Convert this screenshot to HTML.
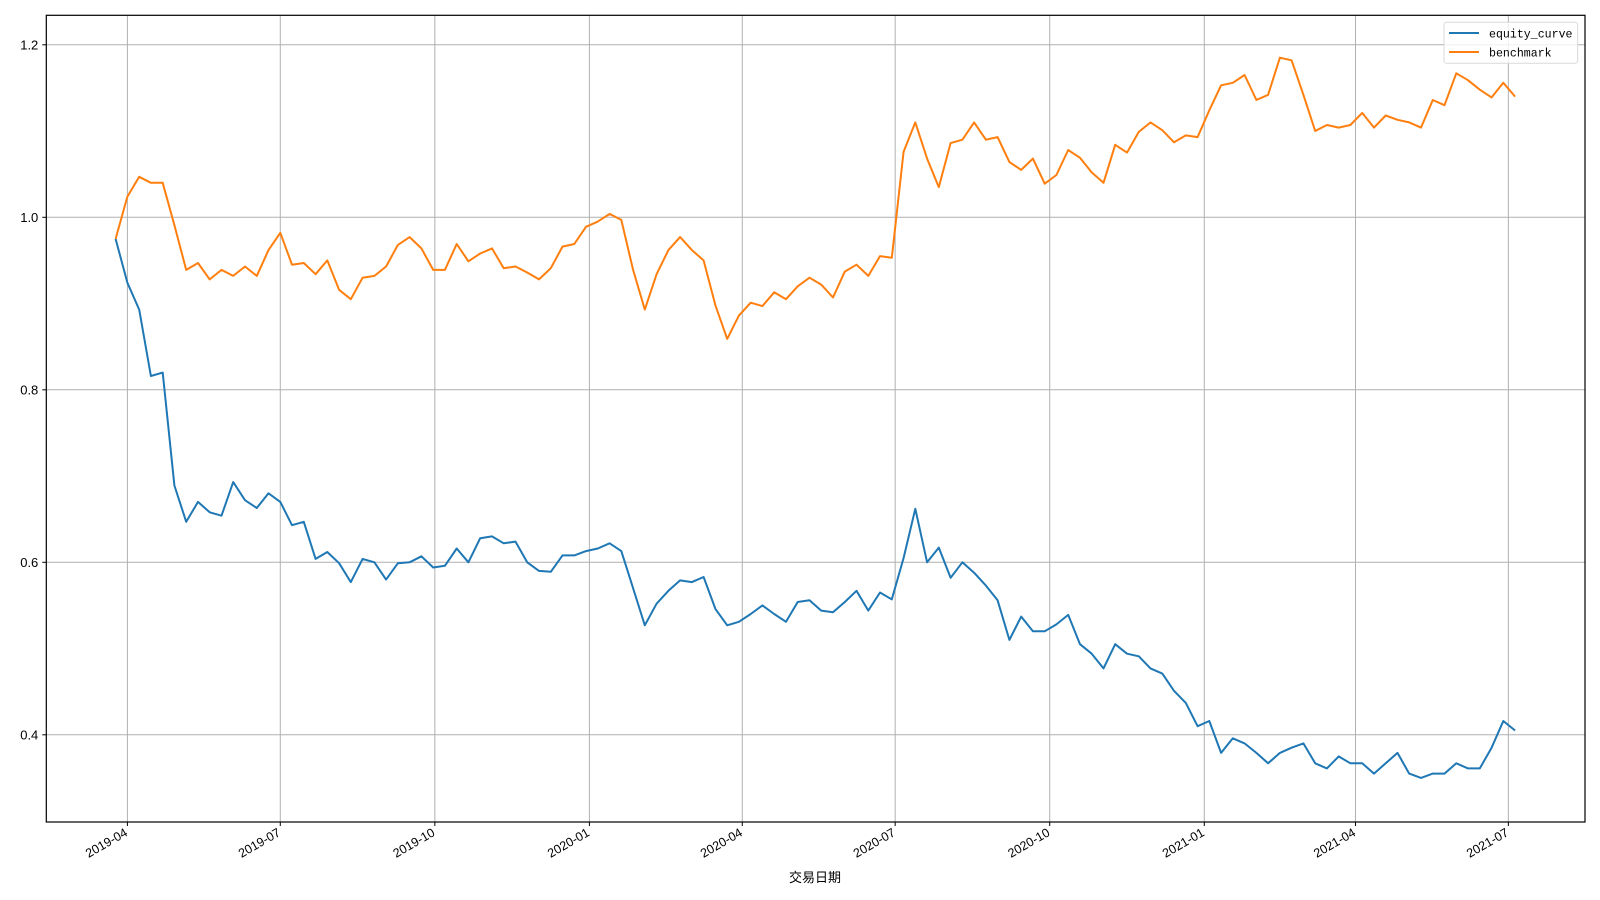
<!DOCTYPE html>
<html><head><meta charset="utf-8">
<style>
html,body{margin:0;padding:0;background:#fff;}
svg{display:block;}
text{font-family:"Liberation Sans","Noto Sans CJK SC",sans-serif;fill:#000;}
.mono{font-family:"Liberation Mono","Noto Sans CJK SC",monospace;}
</style></head>
<body>
<svg id="chart" width="1600" height="900" viewBox="0 0 1600 900">
  <rect x="0" y="0" width="1600" height="900" fill="#fff"/>
  <g id="grid"></g>
  <g id="series"></g>
  <rect x="46.3" y="15.3" width="1538.7" height="806.7" fill="none" stroke="#000" stroke-width="1.2"/>
  <g id="xaxis"></g>
  <g id="yaxis"></g>
  <text x="815" y="882" font-size="13" text-anchor="middle">交易日期</text>
  <g>
    <rect x="1444" y="22.3" width="133.7" height="41" rx="2.5" fill="#fff" fill-opacity="0.8" stroke="#d9d9d9"/>
    <line x1="1449" y1="33" x2="1479" y2="33" stroke="#1f77b4" stroke-width="2"/>
    <text class="mono" x="1489" y="37.5" font-size="11.6">equity_curve</text>
    <line x1="1449" y1="52" x2="1479" y2="52" stroke="#ff7f0e" stroke-width="2"/>
    <text class="mono" x="1489" y="56.5" font-size="11.6">benchmark</text>
  </g>
</svg>
<script>
const startDate = "2019-03-25";
const stepDays = 7;
const equityCurve = [0.975,0.924,0.893,0.816,0.82,0.689,0.647,0.67,0.658,0.654,
0.693,0.672,0.663,0.68,0.67,0.643,0.647,0.604,0.612,0.599,
0.577,0.604,0.6,0.58,0.599,0.6,0.607,0.594,0.596,0.616,
0.6,0.628,0.63,0.622,0.624,0.6,0.59,0.589,0.608,0.608,
0.613,0.616,0.622,0.613,0.57,0.527,0.552,0.567,0.579,0.577,
0.583,0.546,0.527,0.531,0.54,0.55,0.54,0.531,0.554,0.556,
0.544,0.542,0.554,0.567,0.544,0.565,0.557,0.605,0.662,0.6,
0.617,0.582,0.6,0.588,0.573,0.556,0.51,0.537,0.52,0.52,
0.528,0.539,0.505,0.494,0.477,0.505,0.494,0.491,0.477,0.471,
0.451,0.437,0.41,0.416,0.379,0.396,0.39,0.379,0.367,0.379,
0.385,0.39,0.367,0.361,0.375,0.367,0.367,0.355,0.367,0.379,
0.355,0.35,0.355,0.355,0.367,0.361,0.361,0.385,0.416,0.405];
const benchmark = [0.975,1.024,1.047,1.04,1.04,0.991,0.939,0.947,0.928,0.939,
0.932,0.943,0.932,0.962,0.982,0.945,0.947,0.934,0.95,0.916,
0.905,0.93,0.932,0.943,0.968,0.977,0.964,0.939,0.939,0.969,
0.949,0.958,0.964,0.941,0.943,0.936,0.928,0.941,0.966,0.969,
0.989,0.995,1.004,0.997,0.939,0.893,0.934,0.962,0.977,0.962,
0.95,0.898,0.859,0.886,0.901,0.897,0.913,0.905,0.92,0.93,
0.922,0.907,0.937,0.945,0.932,0.955,0.953,1.076,1.11,1.068,
1.035,1.086,1.09,1.11,1.09,1.093,1.064,1.055,1.068,1.039,
1.049,1.078,1.069,1.052,1.04,1.084,1.075,1.099,1.11,1.101,
1.087,1.095,1.093,1.124,1.153,1.156,1.165,1.136,1.142,1.185,
1.182,1.142,1.1,1.107,1.104,1.107,1.121,1.104,1.118,1.113,
1.11,1.104,1.136,1.13,1.167,1.159,1.148,1.139,1.156,1.14];
const xTickLabels = ["2019-04","2019-07","2019-10","2020-01","2020-04","2020-07","2020-10","2021-01","2021-04","2021-07"];
const yTickValues = [0.4,0.6,0.8,1.0,1.2];
const yTickLabels = ["0.4","0.6","0.8","1.0","1.2"];

const NS = "http://www.w3.org/2000/svg";
const L = 46.3, R = 1585, T = 15.3, B = 822;
const ref0 = Date.UTC(2019,3,1);
const DAY = 86400000;
function dayOf(s){const p=s.split("-").map(Number);return (Date.UTC(p[0],p[1]-1,p[2]||1)-ref0)/DAY;}
function xScale(d){return 127.4 + d*1.68;}
function yScale(v){return 217.3 - (v-1.0)*862.5;}
function mk(tag, attrs, parent){const e=document.createElementNS(NS,tag);for(const k in attrs)e.setAttribute(k,attrs[k]);parent.appendChild(e);return e;}

const grid = document.getElementById("grid");
const xa = document.getElementById("xaxis");
const ya = document.getElementById("yaxis");
const ser = document.getElementById("series");

xTickLabels.forEach(function(lbl){
  const x = xScale(dayOf(lbl));
  const g = mk("line",{x1:x,y1:T,x2:x,y2:B,stroke:"#b0b0b0","stroke-width":1},grid);
  
  
  const t = mk("line",{x1:x,y1:B,x2:x,y2:B+4,stroke:"#000","stroke-width":1},xa);
  
  
  const tx = mk("text",{x:x+1,y:B+13,"font-size":12.5,"text-anchor":"end",transform:"rotate(-30 "+(x+1)+" "+(B+13)+")"},xa);
  tx.textContent = lbl;
  
  
});
yTickValues.forEach(function(v,i){
  const y = yScale(v);
  const g = mk("line",{x1:L,y1:y,x2:R,y2:y,stroke:"#b0b0b0","stroke-width":1},grid);
  
  
  const t = mk("line",{x1:L-4,y1:y,x2:L,y2:y,stroke:"#000","stroke-width":1},ya);
  
  
  const tx = mk("text",{x:L-8,y:y+4.5,"font-size":13,"text-anchor":"end"},ya);
  tx.textContent = yTickLabels[i];
  
  
});

const d0 = dayOf(startDate);
function pathFor(vals){
  return vals.map(function(v,i){
    const d = Math.min(d0 + i*stepDays, 826);
    return (i?"L":"M")+xScale(d).toFixed(1)+","+yScale(v).toFixed(1);
  }).join("");
}
const p1 = mk("path",{d:pathFor(equityCurve),fill:"none",stroke:"#1f77b4","stroke-width":2,"stroke-linejoin":"round"},ser);


const p2 = mk("path",{d:pathFor(benchmark),fill:"none",stroke:"#ff7f0e","stroke-width":2,"stroke-linejoin":"round"},ser);


</script>
</body></html>
